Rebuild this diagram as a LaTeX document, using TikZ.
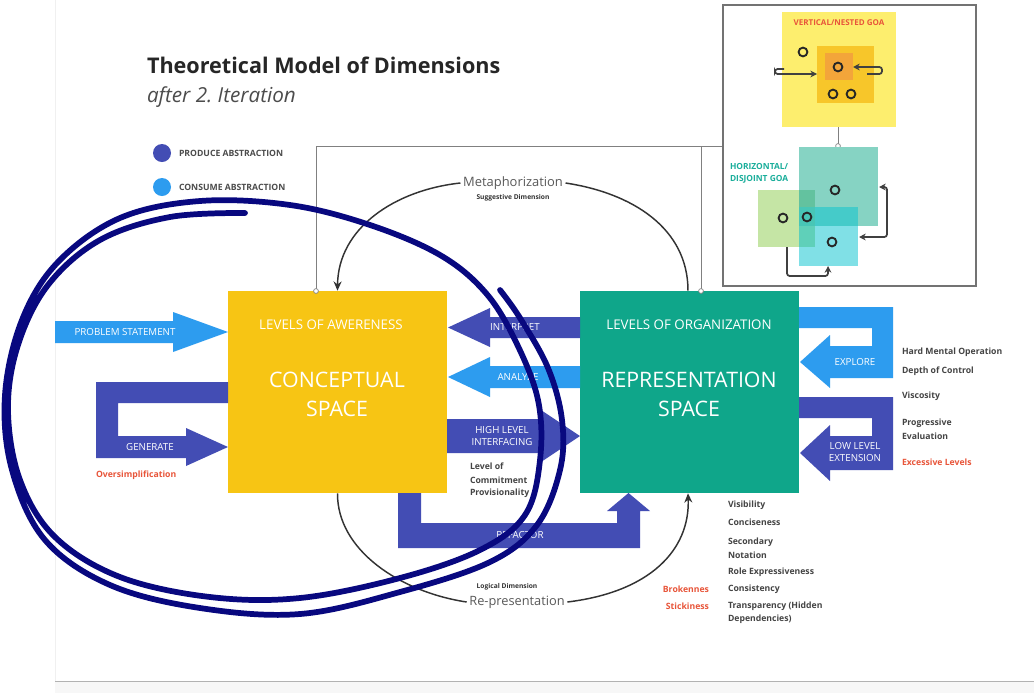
\documentclass[tikz,border=0pt]{standalone}
\usepackage{fontspec}
\setmainfont{Open Sans}
\usetikzlibrary{arrows.meta}
\frenchspacing
\definecolor{dblue}{HTML}{434DB4}
\definecolor{lblue}{HTML}{2D9CEF}
\definecolor{cyel}{HTML}{F7C514}
\definecolor{cteal}{HTML}{0FA68A}
\definecolor{cred}{HTML}{E8553A}
\definecolor{tgray}{HTML}{444444}
\definecolor{navy}{HTML}{08087F}
\definecolor{iyel}{HTML}{FDEE6E}
\definecolor{iyel2}{HTML}{F7C62A}
\definecolor{iorg}{HTML}{F3A53A}
\definecolor{igreen}{HTML}{C5E5A5}
\definecolor{iteal}{HTML}{86D3C3}
\definecolor{icyan}{HTML}{80E0E6}
\definecolor{igt}{HTML}{63C29F}
\definecolor{itc}{HTML}{45CBC9}
\definecolor{igc}{HTML}{5FD0B9}
\definecolor{iall}{HTML}{48C6B6}
\definecolor{tealtxt}{HTML}{1AAE9B}
\newcommand\fsz[2]{\fontsize{#1}{#2}\selectfont}
\tikzset{
  txt/.style={inner sep=0pt, outer sep=0pt},
  wlbl/.style={txt, text=white, align=center, font=\fsz{7.3}{9}},
  note/.style={txt, anchor=west, text=tgray, font=\bfseries\fsz{6.5}{8}},
  rnote/.style={txt, anchor=east, text=cred, font=\bfseries\fsz{6.5}{8}},
  bigbox/.style={inner sep=0pt, minimum width=164.25pt, minimum height=151.5pt},
  conn/.style={draw=black!80, line width=1.1pt},
  gline/.style={draw=black!50, line width=0.6pt},
  knob/.style={draw=black!50, fill=white, line width=0.5pt},
  ring/.style={draw=black!85, line width=1.4pt},
  iarr/.style={draw=black!75, line width=1.3pt, rounded corners=2pt},
  scrib/.style={draw=navy, line width=4.3pt, line cap=round, line join=round}
}
\begin{document}
\begin{tikzpicture}[x=0.75pt,y=-0.75pt]
\useasboundingbox (0,0) rectangle (1034,693);
\fill[white] (0,0) rectangle (1034,693);
% page frame
\draw[black!6, line width=0.6pt] (55,0) -- (55,681);
\fill[black!3] (55,681) rectangle (1034,693);
\draw[black!30, line width=0.6pt] (55,681) -- (1034,681);

% title
\node[txt, anchor=base west, font=\bfseries\fsz{16.2}{19}, text=black!85] (title) at (147,73) {Theoretical Model of Dimensions};
\node[txt, anchor=base west, font=\itshape\fsz{15.5}{18}, text=black!70] (subtitle) at (147,102) {after 2. Iteration};

% legend
\fill[dblue] (162,153) circle (6.75pt);
\fill[lblue] (162,187) circle (6.75pt);
\node[txt, anchor=west, font=\bfseries\fsz{6.5}{8}, text=black!70] (leg1) at (179,153) {PRODUCE ABSTRACTION};
\node[txt, anchor=west, font=\bfseries\fsz{6.5}{8}, text=black!70] (leg2) at (179,187) {CONSUME ABSTRACTION};

% main boxes
\node[bigbox, fill=cyel] (cs) at (337.5,392) {};
\node[bigbox, fill=cteal] (rs) at (689.5,392) {};
\node[txt, text=white, font=\fsz{10}{12}] (csl) at (331,325) {LEVELS OF AWERENESS};
\node[txt, text=white, font=\fsz{16}{21.75}, align=center] (cst) at (337,394) {CONCEPTUAL\\SPACE};
\node[txt, text=white, font=\fsz{10}{12}] (rsl) at (689,325) {LEVELS OF ORGANIZATION};
\node[txt, text=white, font=\fsz{16}{21.75}, align=center] (rst) at (689,394) {REPRESENTATION\\SPACE};

% connector coordinates
\coordinate (k1) at (316,291);
\coordinate (k2) at (701,291);
\coordinate (k3) at (838,146);
\coordinate (ktop) at (723,146);

% gray connectors
\draw[gline] (k1) |- (ktop);
\draw[gline] (k2) -- (701,146);

% block arrows
\fill[lblue] (55,321) -- (173,321) -- (173,312) -- (228,332) -- (173,352) -- (173,343) -- (55,343) -- cycle;
\node[wlbl] (ps) at (125,332) {PROBLEM STATEMENT};
\fill[dblue] (228,382) -- (96,382) -- (96,458) -- (186,458) -- (186,466) -- (228,447) -- (186,428) -- (186,436) -- (118,436) -- (118,403) -- (228,403) -- cycle;
\node[wlbl] (gen) at (150,447) {GENERATE};
\node[rnote, anchor=west] (over) at (96,475) {Oversimplification};

\fill[dblue] (580,317) -- (490,317) -- (490,308) -- (448,327.5) -- (490,347) -- (490,338) -- (580,338) -- cycle;
\node[wlbl] (interp) at (515,327.5) {INTERPRET};
\fill[lblue] (580,366) -- (490,366) -- (490,357) -- (448,377) -- (490,397) -- (490,388) -- (580,388) -- cycle;
\node[wlbl] (anal) at (518,377) {ANALYZE};
\fill[dblue] (447,419) -- (538,419) -- (538,408) -- (580,436) -- (538,464) -- (538,453) -- (447,453) -- cycle;
\node[wlbl] (hli) at (502,436) {HIGH LEVEL\\INTERFACING};
\node[note] (lc1) at (470,466) {Level of};
\node[note] (lc2) at (470,480) {Commitment};
\node[note] (lc3) at (470,493) {Provisionality};

\fill[dblue] (398,493) -- (398,548) -- (640,548) -- (640,511) -- (650,511) -- (628.5,493) -- (607,511) -- (617,511) -- (617,523) -- (421,523) -- (421,493) -- cycle;
\node[wlbl] (refac) at (520,535.5) {REFACTOR};

\fill[lblue] (799,307) -- (893,307) -- (893,378) -- (830,378) -- (830,388) -- (800,362) -- (830,335) -- (830,346) -- (872,346) -- (872,328) -- (799,328) -- cycle;
\node[wlbl] (expl) at (855,362) {EXPLORE};
\fill[dblue] (799,397) -- (893,397) -- (893,470) -- (830,470) -- (830,481) -- (800,453) -- (830,425) -- (830,436) -- (872,436) -- (872,418) -- (799,418) -- cycle;
\node[wlbl] (lle) at (855,452) {LOW LEVEL\\EXTENSION};

% right notes
\node[note] (r1) at (902,352) {Hard Mental Operation};
\node[note] (r2) at (902,371) {Depth of Control};
\node[note] (r3) at (902,396) {Viscosity};
\node[note] (r4) at (902,423) {Progressive};
\node[note] (r5) at (902,436) {Evaluation};
\node[rnote, anchor=west] (r6) at (902,462) {Excessive Levels};

% bottom notes
\node[note] (b1) at (728,505) {Visibility};
\node[note] (b2) at (728,522) {Conciseness};
\node[note] (b3) at (728,542) {Secondary};
\node[note] (b4) at (728,555) {Notation};
\node[note] (b5) at (728,572) {Role Expressiveness};
\node[note] (b6) at (728,589) {Consistency};
\node[note] (b7) at (728,606) {Transparency (Hidden};
\node[note] (b8) at (728,619) {Dependencies)};
\node[rnote] (br1) at (709,589) {Brokennes};
\node[rnote] (br2) at (709,606) {Stickiness};

% curved connectors
\node[txt, text=black!65, font=\fsz{9.7}{11}] (meta) at (513,183) {Metaphorization};
\node[txt, text=black!80, font=\bfseries\fsz{5}{6}] (sugg) at (513,198) {Suggestive Dimension};
\draw[conn] (rs.north -| 688,0) .. controls (688,228) and (632,193) .. ([xshift=2pt]meta.east);
\draw[conn, -{Stealth[length=7pt,width=6pt]}] ([xshift=-2pt]meta.west) .. controls (395,190) and (338,228) .. (cs.north);
\node[txt, text=black!65, font=\fsz{9.6}{11}] (rep) at (517,602) {Re-presentation};
\node[txt, text=black!80, font=\bfseries\fsz{5}{6}] (logic) at (507,587) {Logical Dimension};
\draw[conn] (cs.south) .. controls (337,550) and (400,592) .. ([xshift=-2pt]rep.west);
\draw[conn, -{Stealth[length=7pt,width=6pt]}] ([xshift=2pt]rep.east) .. controls (650,592) and (690,550) .. (rs.south -| 688,0);

% knobs
\draw[knob] (k1) circle (1.8pt);
\draw[knob] (k2) circle (1.8pt);

% inset
\node[draw=black!55, line width=0.8pt, inner sep=0pt, minimum width=189.75pt, minimum height=210.75pt] (inset) at (849.5,145.5) {};
\fill[iyel] (782,12) rectangle (896,127);
\fill[iyel2] (817,46) rectangle (874,103);
\fill[iorg] (825,53) rectangle (853,80);
\node[txt, text=cred, font=\bfseries\fsz{6}{7}] (vlab) at (839,23) {VERTICAL/NESTED GOA};
\draw[ring] (803,52) circle (3.3pt);
\draw[ring] (838,67) circle (3.3pt);
\draw[ring] (833,94) circle (3.3pt);
\draw[ring] (851,94) circle (3.3pt);
\draw[iarr, -{Stealth[length=5pt,width=5pt]}] (784,69) -- (775,69) -- (775,74) -- (817,74);
\draw[iarr, -{Stealth[length=5pt,width=5pt]}] (867,74) -- (882,74) -- (882,67) -- (853,67);
\draw[gline] (838,127) -- (k3);
\draw[knob] (k3) circle (1.8pt);

\fill[igreen] (758,190) rectangle (815,247);
\fill[iteal] (799,147) rectangle (878,226);
\fill[icyan] (799,207) rectangle (858,266);
\fill[igt] (799,190) rectangle (815,207);
\fill[itc] (815,207) rectangle (858,226);
\fill[igc] (799,226) rectangle (815,247);
\fill[iall] (799,207) rectangle (815,226);
\node[txt, anchor=west, text=tealtxt, font=\bfseries\fsz{6.3}{7}] (hlab1) at (730,166) {HORIZONTAL/};
\node[txt, anchor=west, text=tealtxt, font=\bfseries\fsz{6.3}{7}] (hlab2) at (730,179) {DISJOINT GOA};
\draw[ring] (835,190) circle (3.3pt);
\draw[ring] (783,218) circle (3.3pt);
\draw[ring] (807,217) circle (3.3pt);
\draw[ring] (832,242) circle (3.3pt);
\draw[iarr, {Stealth[length=5pt,width=5pt]}-{Stealth[length=5pt,width=5pt]}] (879,187) -- (887,187) -- (887,237) -- (859,237);
\draw[iarr, -{Stealth[length=5pt,width=5pt]}] (787,247) -- (787,276) -- (828,276) -- (828,266);

% hand-drawn scribble
\draw[scrib] plot[smooth, tension=0.6] coordinates {
 (245,213) (170,217) (100,240) (48,285) (18,345) (8,410) (20,480) (55,537)
 (120,577) (210,597) (300,598) (400,578) (480,550) (525,515) (540,460)
 (538,400) (515,340) (485,292) (440,255) (370,225) (290,205) (200,201)
 (120,218) (58,262) (22,320) (5,395) (12,470) (45,540) (110,585) (200,608)
 (300,614) (400,592) (490,562) (537,525) (560,470) (562,420) (548,368)
 (520,318) (500,290)};
\end{tikzpicture}
\end{document}
